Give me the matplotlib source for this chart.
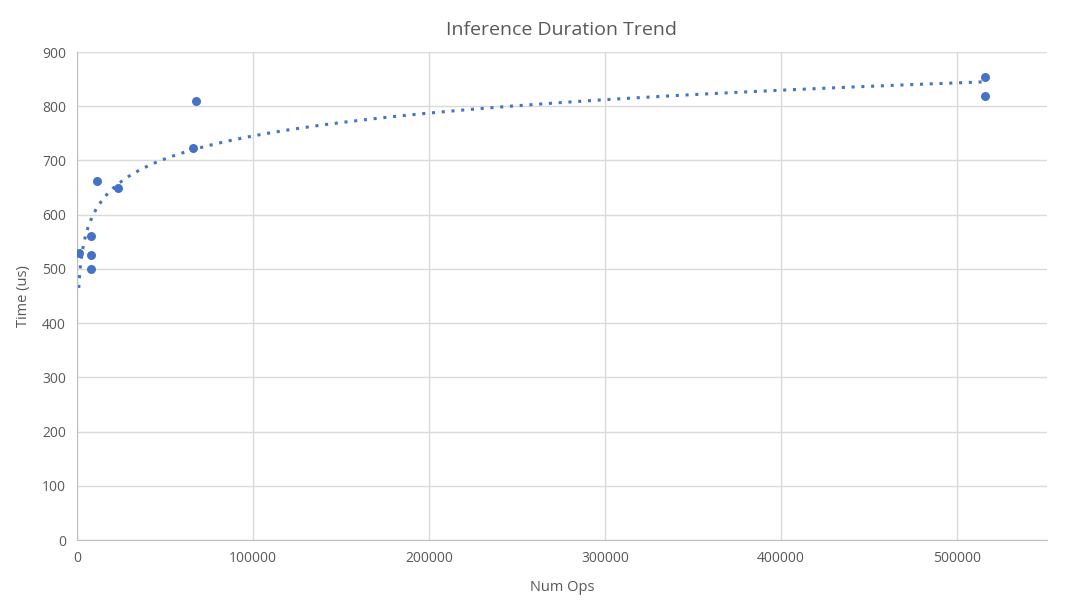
import numpy as np
import matplotlib
matplotlib.use('Agg')
import matplotlib.pyplot as plt

# Data
num_ops = [1000, 7780, 7780, 7780, 11190, 23100, 65740, 67440, 515900, 515900]
time_us = [530, 561, 526, 500, 662, 649, 723, 810, 853, 819]

x = np.array(num_ops, dtype=float)
y = np.array(time_us, dtype=float)

# Logarithmic trendline, as in Excel
a, b = np.polyfit(np.log(x), y, 1)
xt = np.linspace(x.min(), x.max(), 2000)
yt = a * np.log(xt) + b

plt.rcParams['font.family'] = ['Open Sans', 'DejaVu Sans']
text_col = '#595959'
grid_col = '#d9d9d9'
blue = '#4472C4'

fig = plt.figure(figsize=(10.77, 6.03), dpi=100)
ax = fig.add_axes([77 / 1077, 63 / 603, 970 / 1077, 488 / 603])

ax.plot(xt, yt, linestyle=(0, (1, 2.2)), color=blue, linewidth=2.2, zorder=2)
ax.scatter(x, y, s=42, color=blue, zorder=3, linewidths=0)

ax.set_xlim(0, 551000)
ax.set_ylim(0, 900)
ax.set_xticks(np.arange(0, 500001, 100000))
ax.set_yticks(np.arange(0, 901, 100))
ax.set_xticklabels([str(v) for v in range(0, 500001, 100000)])
ax.grid(True, color=grid_col, linewidth=1)
ax.set_axisbelow(True)
for side in ['top', 'right']:
    ax.spines[side].set_visible(False)
for side in ['left', 'bottom']:
    ax.spines[side].set_color('#bfbfbf')
ax.tick_params(length=0, colors=text_col, labelsize=10, pad=8)

ax.set_xlabel('Num Ops', color=text_col, fontsize=10.5, labelpad=10)
ax.set_ylabel('Time (us)', color=text_col, fontsize=10.5, labelpad=8)
ax.set_title('Inference Duration Trend', color=text_col, fontsize=14, pad=12)

fig.savefig('out.png', dpi=100)
